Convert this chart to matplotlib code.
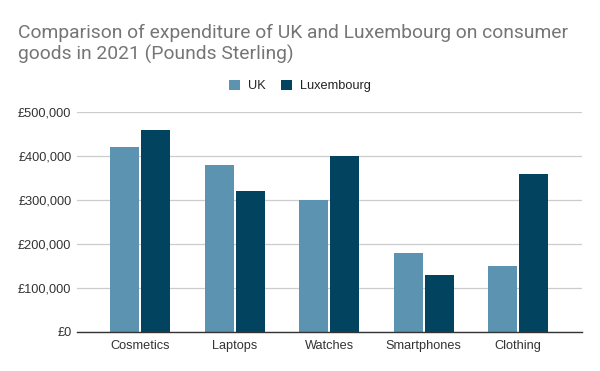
import matplotlib
matplotlib.use("Agg")
import matplotlib.pyplot as plt
import numpy as np
from matplotlib.ticker import FuncFormatter, MultipleLocator

categories = ["Cosmetics", "Laptops", "Watches", "Smartphones", "Clothing"]
uk = [420000, 380000, 300000, 180000, 150000]
lux = [460000, 320000, 400000, 130000, 360000]
series_names = ["UK", "Luxembourg"]
title = "Comparison of expenditure of UK and Luxembourg on consumer\ngoods in 2021 (Pounds Sterling)"

c_uk = "#5b93b1"
c_lux = "#02445f"

fig = plt.figure(figsize=(6.0, 3.71), dpi=100)
ax = fig.add_axes([77/600, 1-332/371, 505/600, 220/371])

x = np.arange(len(categories))
w = 0.307
off = 0.164
ax.bar(x - off, uk, width=w, color=c_uk, label=series_names[0], zorder=3)
ax.bar(x + off, lux, width=w, color=c_lux, label=series_names[1], zorder=3)

ax.set_xlim(-0.667, 4.677)
ax.set_ylim(0, 500000)
ax.yaxis.set_major_locator(MultipleLocator(100000))
ax.yaxis.set_major_formatter(FuncFormatter(lambda v, p: "£{:,.0f}".format(v)))
ax.grid(axis="y", color="#cccccc", linewidth=0.9, zorder=0)
for s in ["top", "right", "left"]:
    ax.spines[s].set_visible(False)
ax.spines["bottom"].set_color("#333333")
ax.spines["bottom"].set_linewidth(1.0)
ax.spines["bottom"].set_zorder(4)
ax.set_xticks(x)
ax.set_xticklabels(categories)
ax.tick_params(axis="both", length=0, labelsize=9.2, labelcolor="#333333", labelfontfamily="Liberation Sans")
ax.tick_params(axis="x", pad=6)
ax.tick_params(axis="y", pad=4)

fig.text(18/600, 1-44/371, title, fontsize=13.9, color="#757575",
         family="Roboto", va="center", ha="left", linespacing=1.15)

leg = fig.legend(loc="center", bbox_to_anchor=(300/600, 1-86/371), ncol=2, frameon=False,
                 prop={"family": "Liberation Sans", "size": 9.2}, handlelength=0.85,
                 handleheight=0.85, handletextpad=0.6, columnspacing=1.2)
for t in leg.get_texts():
    t.set_color("#222222")

fig.savefig("out.png", dpi=100, facecolor="white")
